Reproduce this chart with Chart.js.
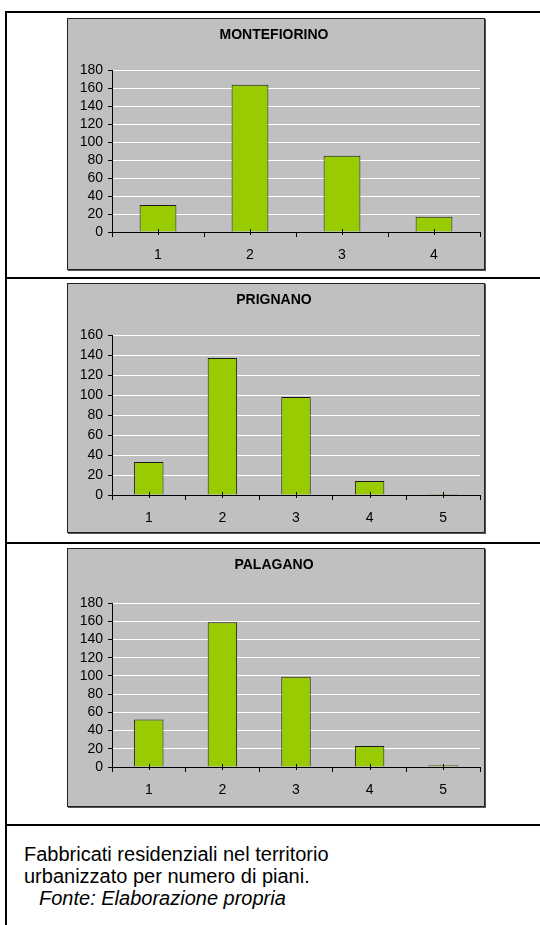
<!DOCTYPE html>
<html lang="it">
<head>
  <meta charset="UTF-8">
  <title>Fabbricati residenziali per numero di piani</title>
  <script src="https://cdn.jsdelivr.net/npm/chart.js"></script>
  <style>
    body { margin: 0; background: #fff; font-family: Arial, "Liberation Sans", sans-serif; }
    .frame { position: absolute; left: 5px; top: 11px; width: 700px; height: 1000px;
             border-left: 2px solid #000; border-top: 2px solid #000; }
    .rule { position: absolute; left: 5px; width: 700px; height: 2px; background: #000; }
    .box { position: absolute; left: 67px; width: 416px; background: #c0c0c0;
           border: 1px solid #222; box-shadow: 1px 1px 0 #555; }
    .box div { position: relative; width: 100%; height: 100%; }
    .caption { position: absolute; left: 24px; top: 843px; font-size: 20px; line-height: 22px; color: #000; }
    .caption i { padding-left: 15px; }
  </style>
</head>
<body>
  <div class="frame"></div>
  <div class="rule" style="top:277px"></div>
  <div class="rule" style="top:542px"></div>
  <div class="rule" style="top:824px"></div>

  <div class="box" style="top:18px;height:250px"><div><canvas id="c1"></canvas></div></div>
  <div class="box" style="top:283px;height:248px"><div><canvas id="c2"></canvas></div></div>
  <div class="box" style="top:548px;height:257px"><div><canvas id="c3"></canvas></div></div>

  <div class="caption">
    Fabbricati residenziali nel territorio<br>
    urbanizzato per numero di piani.<br>
    <i>Fonte: Elaborazione propria</i>
  </div>

  <script>
    // numero di piani
    const piani4 = ['1', '2', '3', '4'];
    const piani5 = ['1', '2', '3', '4', '5'];

    // numero di fabbricati
    const montefiorino = [30, 164, 85, 17];
    const prignano = [33, 137, 98, 14, 1];
    const palagano = [52, 159, 99, 23, 2];

    const FONT = 'Arial, "Liberation Sans", sans-serif';

    // piccoli segni di graduazione al centro di ogni categoria (come in Excel)
    const centerTicks = {
      id: 'centerTicks',
      afterDatasetsDraw(chart) {
        const x = chart.scales.x;
        const ctx = chart.ctx;
        ctx.save();
        ctx.strokeStyle = '#000';
        ctx.lineWidth = 1;
        x.ticks.forEach((t, i) => {
          const px = Math.round(x.getPixelForTick(i)) + 0.5;
          ctx.beginPath();
          ctx.moveTo(px, x.top - 3);
          ctx.lineTo(px, x.top + 3);
          ctx.stroke();
        });
        ctx.restore();
      }
    };

    function makeChart(id, title, labels, values, maxY, plotTop, plotBottom) {
      const canvas = document.getElementById(id);
      const H = canvas.parentElement.clientHeight;
      const titleTop = 8;
      return new Chart(canvas, {
        type: 'bar',
        data: {
          labels: labels,
          datasets: [{
            data: values,
            backgroundColor: '#99cc00',
            borderColor: '#1a1a1a',
            borderWidth: 1,
            barPercentage: 0.4,
            categoryPercentage: 1
          }]
        },
        options: {
          responsive: true,
          maintainAspectRatio: false,
          animation: false,
          layout: { padding: { left: 0, right: 4, top: 0, bottom: 0 } },
          plugins: {
            legend: { display: false },
            tooltip: { enabled: false },
            title: {
              display: true,
              text: title,
              color: '#000',
              font: { family: FONT, size: 14, weight: 'bold', lineHeight: 1.2 },
              padding: { top: titleTop, bottom: plotTop - titleTop - 16.8 }
            }
          },
          scales: {
            x: {
              grid: { offset: true, drawOnChartArea: false, tickLength: 5, color: '#000' },
              border: { color: '#000' },
              ticks: { color: '#000', padding: 10, font: { family: FONT, size: 14 } },
              afterFit: s => { s.height = H - plotBottom; }
            },
            y: {
              min: 0,
              max: maxY,
              ticks: { stepSize: 20, autoSkip: false, color: '#000', padding: 5, font: { family: FONT, size: 14 } },
              grid: {
                color: c => (c.tick && c.tick.value === 0) ? 'rgba(0,0,0,0)' : '#fff',
                tickColor: '#000',
                tickLength: 4
              },
              border: { color: '#000' },
              afterFit: s => { s.width = 44; }
            }
          }
        },
        plugins: [centerTicks]
      });
    }

    makeChart('c1', 'MONTEFIORINO', piani4, montefiorino, 180, 51.5, 213);
    makeChart('c2', 'PRIGNANO', piani5, prignano, 160, 51, 211);
    makeChart('c3', 'PALAGANO', piani5, palagano, 180, 54, 218);
  </script>
</body>
</html>
